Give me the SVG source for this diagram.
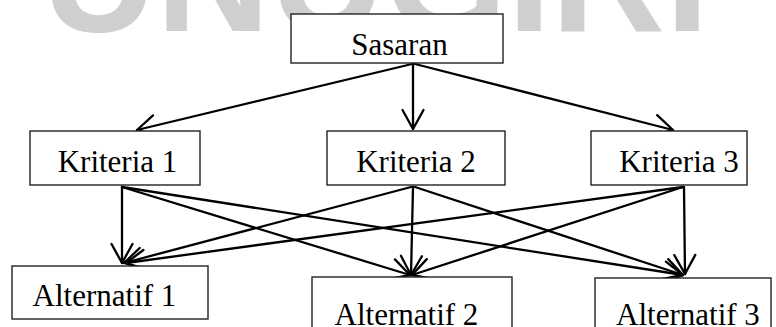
<svg xmlns="http://www.w3.org/2000/svg" width="776" height="327" viewBox="0 0 776 327">
  <style>
    .box { fill: #ffffff; stroke: #222222; stroke-width: 1.4; }
    .lbl { font-family: "Liberation Serif", "Times New Roman", serif; font-size: 31px; fill: #000000; text-anchor: middle; }
    .edge { fill: none; stroke: #000000; stroke-width: 2.3; stroke-linecap: round; marker-end: url(#vhead); }
    .mark { font-family: "Liberation Sans", Arial, sans-serif; font-weight: bold; font-size: 158px; fill: #cfcfcf; }
  </style>
  <defs>
    <!-- open V arrowhead -->
    <marker id="vhead" markerUnits="userSpaceOnUse" orient="auto" overflow="visible" markerWidth="1" markerHeight="1" refX="0" refY="0">
      <path d="M-19,-10.5 L0,0 L-19,10.5" fill="none" stroke="#000000" stroke-width="2.3" stroke-linejoin="round" stroke-linecap="round"/>
    </marker>
  </defs>

  <rect width="776" height="327" fill="#ffffff"/>

  <!-- watermark lettering along the top edge -->
  <text class="mark" x="42" y="31">UNUGIRI</text>

  <g id="connectors">
    <line class="edge" x1="412" y1="64" x2="137" y2="130"/>
    <line class="edge" x1="413" y1="64" x2="413" y2="129"/>
    <line class="edge" x1="415" y1="64" x2="673" y2="130"/>

    <line class="edge" x1="122" y1="187" x2="122" y2="263"/>
    <line class="edge" x1="122" y1="187" x2="410" y2="275"/>
    <line class="edge" x1="122" y1="187" x2="683" y2="275"/>

    <line class="edge" x1="411" y1="187" x2="124" y2="263"/>
    <line class="edge" x1="413" y1="187" x2="411" y2="275"/>
    <line class="edge" x1="415" y1="187" x2="683" y2="275"/>

    <line class="edge" x1="683" y1="187" x2="126" y2="263"/>
    <line class="edge" x1="683" y1="187" x2="412" y2="275"/>
    <line class="edge" x1="684" y1="187" x2="685" y2="274"/>
  </g>

  <g id="sasaran">
    <rect class="box" x="291" y="14" width="212" height="49"/>
    <text class="lbl" x="399.5" y="55">Sasaran</text>
  </g>

  <g id="kriteria1">
    <rect class="box" x="30" y="131" width="170" height="54"/>
    <text class="lbl" x="117.5" y="172">Kriteria 1</text>
  </g>
  <g id="kriteria2">
    <rect class="box" x="327" y="131" width="178" height="54"/>
    <text class="lbl" x="416" y="172">Kriteria 2</text>
  </g>
  <g id="kriteria3">
    <rect class="box" x="591" y="131" width="156" height="54"/>
    <text class="lbl" x="679" y="172">Kriteria 3</text>
  </g>

  <g id="alternatif1">
    <rect class="box" x="12" y="266" width="196" height="53"/>
    <text class="lbl" x="104.5" y="306">Alternatif 1</text>
  </g>
  <g id="alternatif2">
    <rect class="box" x="312" y="277" width="200" height="60"/>
    <text class="lbl" x="406.5" y="325">Alternatif 2</text>
  </g>
  <g id="alternatif3">
    <rect class="box" x="595" y="278" width="176" height="60"/>
    <text class="lbl" x="688" y="325">Alternatif 3</text>
  </g>
</svg>
